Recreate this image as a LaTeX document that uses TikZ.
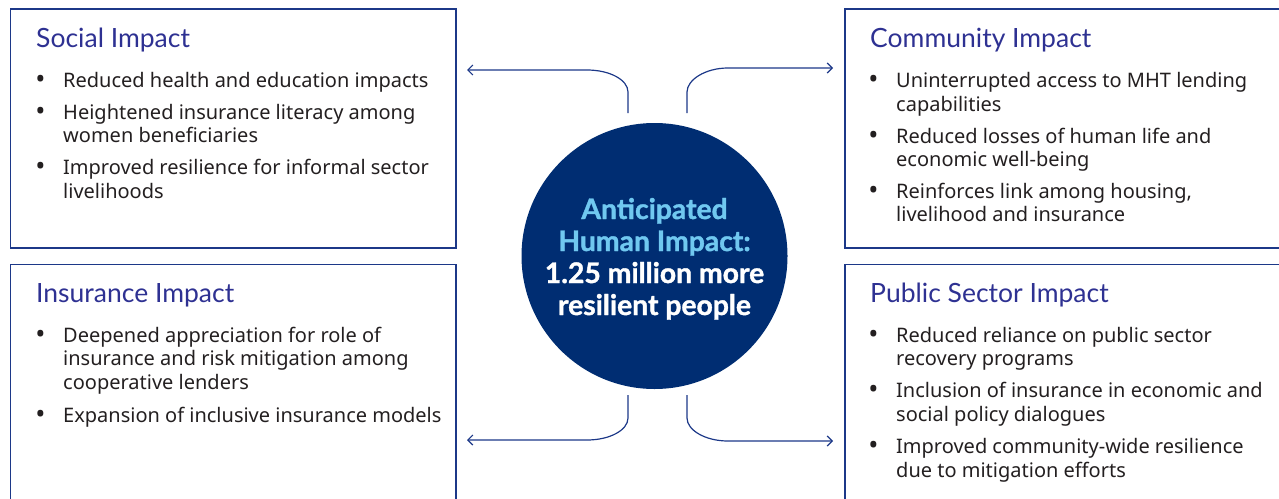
\documentclass[tikz,border=0pt]{standalone}
\usepackage{fontspec}
\setmainfont{Noto Sans}
\newfontfamily\titlefont{Lato}
\newfontfamily\circfont{Lato}[BoldFeatures={FakeBold=1.3}]
\usetikzlibrary{arrows.meta}
\definecolor{navy}{RGB}{0,45,114}
\definecolor{linec}{RGB}{28,56,136}
\definecolor{titlec}{RGB}{46,49,146}
\definecolor{lightb}{RGB}{112,200,240}
\definecolor{bodyc}{RGB}{35,31,32}
\begin{document}
\begin{tikzpicture}[x=1pt,y=-1pt,
  box/.style={draw=linec, line width=1.3pt, anchor=north west, inner sep=0pt, outer sep=0pt},
  ttl/.style={anchor=base west, inner sep=0pt, text=titlec, font=\titlefont\fontsize{26.5}{30}\selectfont},
  ln/.style={anchor=base west, inner sep=0pt, text=bodyc, font=\fontsize{20}{23}\selectfont},
  bul/.style={anchor=base, inner sep=0pt, text=bodyc, font=\fontsize{27}{23}\selectfont, yshift=-1.5pt},
  ctext/.style={anchor=base, inner sep=0pt, font=\circfont\bfseries\fontsize{28.3}{32}\selectfont},
  conn/.style={draw=linec, line width=1.2pt, -{Straight Barb[length=5pt,width=10pt]}}]
\path[use as bounding box] (0,0) rectangle (1279,498);
\clip (0,0) rectangle (1279,498);
% boxes
\node[box, minimum width=445.5pt, minimum height=239pt] (bsoc) at (10.5,9) {};
\node[box, minimum width=460pt, minimum height=239pt] (bcom) at (845,9) {};
\node[box, minimum width=445.5pt, minimum height=260pt] (bins) at (10.5,264.5) {};
\node[box, minimum width=460pt, minimum height=260pt] (bpub) at (845,264.5) {};
% titles
\node[ttl] (tsoc) at (36,47) {Social Impact};
\node[ttl] (tcom) at (870,47) {Community Impact};
\node[ttl] (tins) at (36,302) {Insurance Impact};
\node[ttl] (tpub) at (870,302) {Public Sector Impact};
% social
\node[bul] (s1b) at (40.5,87) {•};
\node[ln] (s1a) at (63,87) {Reduced health and education impacts};
\node[bul] (s2b) at (40.5,119) {•};
\node[ln] (s2a) at (63,119) {Heightened insurance literacy among};
\node[ln] (s2c) at (63,142) {women beneficiaries};
\node[bul] (s3b) at (40.5,174) {•};
\node[ln] (s3a) at (63,174) {Improved resilience for informal sector};
\node[ln] (s3c) at (63,198) {livelihoods};
% community
\node[bul] (c1b) at (873.5,87) {•};
\node[ln] (c1a) at (896,87) {Uninterrupted access to MHT lending};
\node[ln] (c1c) at (896,111) {capabilities};
\node[bul] (c2b) at (873.5,143) {•};
\node[ln] (c2a) at (896,143) {Reduced losses of human life and};
\node[ln] (c2c) at (896,166) {economic well-being};
\node[bul] (c3b) at (873.5,198) {•};
\node[ln] (c3a) at (896,198) {Reinforces link among housing,};
\node[ln] (c3c) at (896,221) {livelihood and insurance};
% insurance
\node[bul] (i1b) at (40.5,342) {•};
\node[ln] (i1a) at (63,342) {Deepened appreciation for role of};
\node[ln] (i1c) at (63,365) {insurance and risk mitigation among};
\node[ln] (i1d) at (63,389) {cooperative lenders};
\node[bul] (i2b) at (40.5,422) {•};
\node[ln] (i2a) at (63,422) {Expansion of inclusive insurance models};
% public
\node[bul] (p1b) at (873.5,342) {•};
\node[ln] (p1a) at (896,342) {Reduced reliance on public sector};
\node[ln] (p1c) at (896,365) {recovery programs};
\node[bul] (p2b) at (873.5,397) {•};
\node[ln] (p2a) at (896,397) {Inclusion of insurance in economic and};
\node[ln] (p2c) at (896,421) {social policy dialogues};
\node[bul] (p3b) at (873.5,453) {•};
\node[ln] (p3a) at (896,453) {Improved community-wide resilience};
\node[ln] (p3c) at (896,477) {due to mitigation efforts};
% circle
\node[circle, fill=navy, minimum size=266pt, inner sep=0pt] (hub) at (654.5,256) {};
\node[ctext, text=lightb] (h1) at (654.5,219) {Anticipated};
\node[ctext, text=lightb] (h2) at (654.5,251) {Human Impact:};
\node[ctext, text=white] (h3) at (654.5,283) {1.25 million more};
\node[ctext, text=white] (h4) at (654.5,315) {resilient people};
% connectors
\coordinate (a1s) at (628,113); \coordinate (a1e) at (467,70);
\coordinate (a2s) at (687,113); \coordinate (a2e) at (833,68);
\coordinate (a3s) at (628,395); \coordinate (a3e) at (467,440);
\coordinate (a4s) at (687,395); \coordinate (a4e) at (833,441);
\draw[conn] (a1s) -- (628,92) .. controls (628,80) and (610,70) .. (587,70) -- (a1e);
\draw[conn] (a2s) -- (687,92) .. controls (687,80) and (705,68) .. (728,68) -- (a2e);
\draw[conn] (a3s) -- (628,418) .. controls (628,430) and (610,440) .. (587,440) -- (a3e);
\draw[conn] (a4s) -- (687,418) .. controls (687,430) and (705,441) .. (728,441) -- (a4e);
\end{tikzpicture}
\end{document}
